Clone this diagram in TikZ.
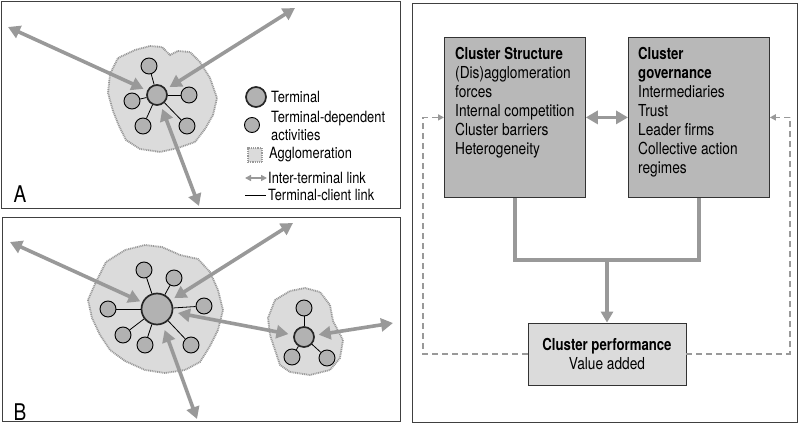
\documentclass[tikz,border=0pt]{standalone}
\usepackage{fontspec}
\setmainfont[FakeStretch=0.83,BoldFeatures={FakeStretch=0.8}]{TeX Gyre Heros}
\usetikzlibrary{arrows.meta,calc}

\definecolor{linkgray}{gray}{0.6}
\definecolor{boxgray}{gray}{0.72}
\definecolor{blobgray}{gray}{0.86}
\definecolor{circgray}{gray}{0.70}
\definecolor{framegray}{gray}{0.25}

\begin{document}
\begin{tikzpicture}[x=1pt,y=-1pt,
		terminal/.style={circle,draw=black!85,line width=1.7pt,fill=circgray,inner sep=0pt,minimum size=#1},
		terminal/.default=20pt,
		activity/.style={circle,draw=black,line width=0.9pt,fill=circgray,inner sep=0pt,minimum size=#1},
		activity/.default=16pt,
		client/.style={draw=black,line width=0.8pt},
		blob/.style={draw=linkgray,fill=blobgray,line width=1.8pt,dash pattern=on 1pt off 0.8pt},
		link/.style={draw=linkgray,line width=3.6pt,{Triangle[length=12pt,width=13pt]}-{Triangle[length=12pt,width=13pt]}},
		flow/.style={draw=linkgray,line width=4pt},
		feedback/.style={draw=linkgray,line width=1.7pt,dash pattern=on 6pt off 4pt,-{Triangle[length=6pt,width=6pt]}},
		panel/.style={draw=framegray,line width=1pt},
		bigbox/.style={draw=black!80,line width=0.8pt,fill=boxgray,minimum width=141pt,minimum height=160pt,inner sep=0pt},
		boxtext/.style={anchor=north west,align=left,inner sep=0pt,font=\fontsize{16.5}{19}\selectfont},
		legend/.style={anchor=west,align=left,inner sep=0pt,font=\fontsize{15.5}{18}\selectfont}]
	\useasboundingbox (0,0) rectangle (800,425);

	% panels
	\draw[panel] (1.5,1.5) rectangle (400,208);
	\draw[panel] (2,217) rectangle (400,421.5);
	\draw[panel] (412,4) rectangle (797.5,422);

	% A
	\draw[blob] (118,58) -- (135,50) -- (150,46) -- (162,47) -- (170,55) -- (178,51) -- (190,52)
		-- (200,62) -- (210,78) -- (217,98) -- (213,115) -- (205,129) -- (195,142) -- (178,148)
		-- (160,152) -- (140,149) -- (126,140) -- (119,126) -- (113,111) -- (108,93) -- (110,74) -- cycle;
	\node[terminal] (tA) at (157,95) {};
	\node[activity] (a1) at (149,66) {};
	\node[activity] (a2) at (189,95) {};
	\node[activity] (a3) at (132,101) {};
	\node[activity] (a4) at (143,126) {};
	\node[activity] (a5) at (187,126) {};
	\foreach \i in {1,...,5}
		\draw[client] (tA) -- (a\i);
	\coordinate (eA1) at (8,27);
	\coordinate (eA2) at (295,8);
	\coordinate (eA3) at (199,206);
	\draw[link,shorten >=4pt] (eA1) -- (tA);
	\draw[link,shorten >=4pt] (eA2) -- (tA);
	\draw[link,shorten >=4pt] (eA3) -- (tA);
	\node[font=\fontsize{23}{23}\selectfont] (labA) at (20,194) {A};

	% legend
	\node[terminal=20pt] (lt) at (256,97) {};
	\node[legend] (ltt) at (271,97) {Terminal};
	\node[activity=15pt] (la) at (252,125) {};
	\node[legend] (lat) at (271,126) {Terminal-dependent\\activities};
	\node[blob,minimum size=14pt,inner sep=0pt] (lb) at (255,155) {};
	\node[legend] (lbt) at (269,155) {Agglomeration};
	\coordinate (ll1) at (245,178);
	\coordinate (ll2) at (267,178);
	\draw[draw=linkgray,line width=1.6pt,{Triangle[length=6pt,width=6pt]}-{Triangle[length=6pt,width=6pt]}] (ll1) -- (ll2);
	\node[legend] (llt) at (268,178) {Inter-terminal link};
	\coordinate (lc1) at (245,195);
	\coordinate (lc2) at (266,195);
	\draw[client] (lc1) -- (lc2);
	\node[legend] (lct) at (268,195) {Terminal-client link};

	% B
	\draw[blob] (95,284) -- (106,262) -- (125,250) -- (145,245) -- (162,247) -- (180,255) -- (198,259)
		-- (210,272) -- (218,290) -- (223,310) -- (218,330) -- (210,346) -- (200,362) -- (185,370)
		-- (165,373) -- (145,370) -- (125,361) -- (110,350) -- (100,335) -- (92,318) -- (88,300) -- cycle;
	\draw[blob] (275,300) -- (290,291) -- (305,288) -- (320,292) -- (330,305) -- (333,321) -- (343,340)
		-- (340,358) -- (330,370) -- (310,375) -- (290,372) -- (280,365) -- (275,350) -- (270,335) -- (268,318) -- cycle;
	\node[terminal=31pt] (tB) at (157,309) {};
	\node[activity] (b1) at (144,270) {};
	\node[activity] (b2) at (174,278) {};
	\node[activity] (b3) at (204,306) {};
	\node[activity] (b4) at (108,309) {};
	\node[activity] (b5) at (123,335) {};
	\node[activity] (b6) at (145,345) {};
	\node[activity] (b7) at (191,345) {};
	\foreach \i in {1,...,7}
		\draw[client] (tB) -- (b\i);
	\node[terminal] (tS) at (304,337) {};
	\node[activity] (s1) at (304,308) {};
	\node[activity] (s2) at (292,357) {};
	\node[activity] (s3) at (327,358) {};
	\foreach \i in {1,2,3}
		\draw[client] (tS) -- (s\i);
	\coordinate (eB1) at (10,242);
	\coordinate (eB2) at (293,223);
	\coordinate (eB3) at (197,419);
	\coordinate (eS1) at (393,323);
	\draw[link,shorten >=2pt] (eB1) -- (tB);
	\draw[link,shorten >=4pt] (eB2) -- (tB);
	\draw[link,shorten >=6pt] (eB3) -- (tB);
	\draw[link,shorten <=5pt,shorten >=5pt] (tB) -- (tS);
	\draw[link,shorten >=4pt] (eS1) -- (tS);
	\node[font=\fontsize{23}{23}\selectfont] (labB) at (20,412) {B};

	% right panel
	\node[bigbox,anchor=north west] (cs) at (444,37) {};
	\node[bigbox,anchor=north west] (cg) at (628,37) {};
	\node[boxtext] (cst) at (455,47) {\textbf{Cluster Structure}\\(Dis)agglomeration\\forces\\Internal competition\\Cluster barriers\\Heterogeneity};
	\node[boxtext] (cgt) at (638,47) {\textbf{Cluster}\\\textbf{governance}\\Intermediaries\\Trust\\Leader firms\\Collective action\\regimes};
	\node[draw=black!80,line width=0.8pt,fill=blobgray,minimum width=158pt,minimum height=62pt,align=center,
		font=\fontsize{16.5}{19}\selectfont] (cp) at (607,354) {\textbf{Cluster performance}\\Value added};
	\draw[link] (cs.east) -- (cg.west);
	\coordinate (j) at (607,260);
	\draw[flow] (cs.south) |- (j) -| (cg.south);
	\draw[flow,-{Triangle[length=11pt,width=12pt]}] (j) -- (cp.north);
	\draw[feedback] (cp.west) -| ($(cs.west)+(-21,0)$) -- (cs.west);
	\draw[feedback] (cp.east) -| ($(cg.east)+(20,0)$) -- (cg.east);
\end{tikzpicture}
\end{document}
